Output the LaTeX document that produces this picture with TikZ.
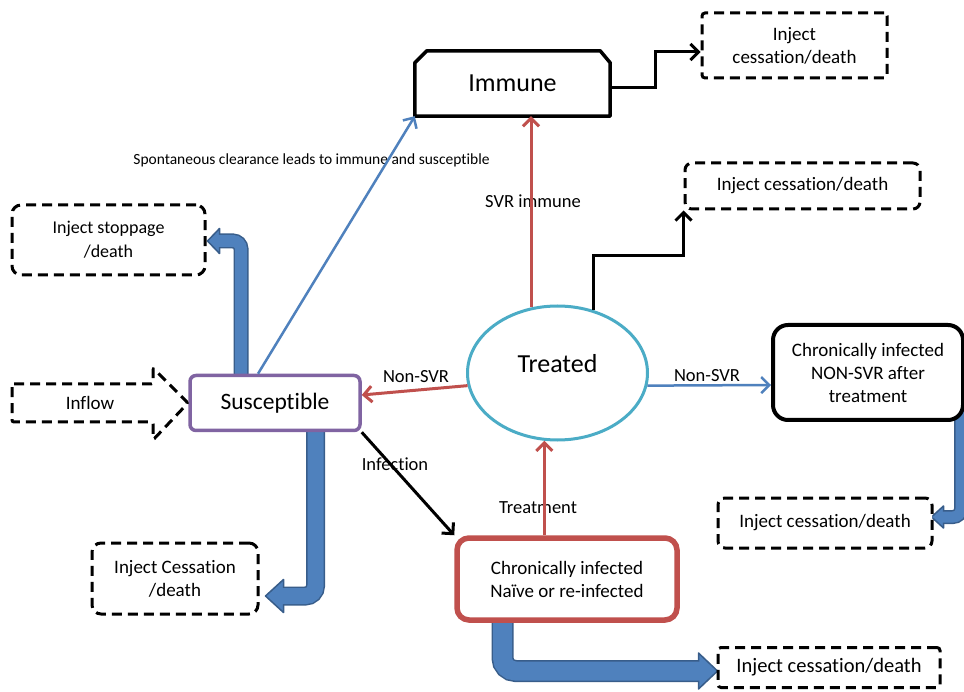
\documentclass[tikz,border=0pt]{standalone}
\usepackage{fontspec}
\setmainfont{Carlito}[Ligatures=NoCommon]
\usetikzlibrary{arrows.meta,shapes.geometric}
\definecolor{cpurple}{HTML}{8064A2}
\definecolor{cred}{HTML}{C0504D}
\definecolor{ccyan}{HTML}{4BACC6}
\definecolor{cblue}{HTML}{4F81BD}
\definecolor{cdark}{HTML}{385D8A}
\newcommand\fsz[2]{\fontsize{#1}{#2}\selectfont}
\pgfdeclarelayer{bg}
\pgfsetlayers{bg,main}
\begin{document}
\begin{tikzpicture}[x=1pt,y=-1pt,
  dbox/.style={draw, line width=3pt, dash pattern=on 10pt off 6pt, rounded corners=7pt, align=center, inner sep=0pt, fill=white, font=\fsz{19}{23}},
  lbl/.style={inner sep=0pt, font=\fsz{18.5}{22}},
  conn/.style={line width=3pt, -{Straight Barb[length=8pt,width=16pt]}},
  fathead/.style={fill=cblue, draw=cdark, line width=1.5pt, line join=round},
]
\begin{pgfonlayer}{bg}
\fill[white] (0,0) rectangle (964,692);
\end{pgfonlayer}
\useasboundingbox (0,0) rectangle (964,692);

% main boxes
\node[draw=cpurple, line width=3.5pt, fill=white, rounded corners=6pt, minimum width=170pt, minimum height=55pt, inner sep=0pt, font=\fsz{23.5}{28}] (sus) at (275,403) {Susceptible};
\node[ellipse, draw=ccyan, line width=3pt, fill=white, minimum width=180pt, minimum height=134pt, inner sep=0pt, font=\fsz{26}{31}] (treated) at (557.5,373) {\raisebox{20pt}{Treated}};
\node[draw=cred, line width=5.5pt, fill=white, rounded corners=12pt, minimum width=220pt, minimum height=82pt, inner sep=0pt, align=center, font=\fsz{19}{23}] (chron) at (567,579) {Chronically infected\\Naïve or re-infected};
\node[draw, line width=4pt, fill=white, rounded corners=15pt, minimum width=190pt, minimum height=95pt, inner sep=0pt, align=center, font=\fsz{19}{23}] (nonsvr) at (868,372.5) {Chronically infected\\NON-SVR after\\treatment};
\node[minimum width=195pt, minimum height=65pt, inner sep=0pt, font=\fsz{26}{31}] (immune) at (512.5,83.5) {Immune};
\draw[line width=3.5pt, line join=round] (immune.south west) -- ([yshift=-12pt]immune.north west) -- ([xshift=12pt]immune.north west) -- ([xshift=-10pt]immune.north east) -- ([yshift=-12pt]immune.north east) -- (immune.south east) -- cycle;

% dashed boxes
\node[dbox, rounded corners=3pt, minimum width=185pt, minimum height=65pt] (injA) at (794.5,45.5) {Inject\\cessation/death};
\node[dbox, minimum width=235pt, minimum height=46pt] (injB) at (802.5,186) {Inject cessation/death};
\node[dbox, rounded corners=9pt, minimum width=193pt, minimum height=70pt, font=\fsz{18}{24}] (injC) at (108.5,240) {Inject stoppage\\/death};
\node[dbox, minimum width=214pt, minimum height=50pt] (injD) at (825,523) {Inject cessation/death};
\node[dbox, rounded corners=9pt, minimum width=166pt, minimum height=71pt] (injE) at (175,578.5) {Inject Cessation\\/death};
\node[dbox, rounded corners=3pt, minimum width=222pt, minimum height=40pt, font=\fsz{20.5}{24}] (injF) at (829,667.5) {Inject cessation/death};

% inflow arrow shape
\node[lbl, font=\fsz{19}{23}] (inflow) at (90,403) {Inflow};
\draw[line width=3pt, dash pattern=on 10pt off 6pt, rounded corners=2pt] (12,384) -- (153,384) -- (153,368) -- (188,403) -- (153,440) -- (153,422) -- (12,422) -- cycle;

% labels
\node[lbl, font=\fsz{15.5}{18}] (spont) at (311.5,160) {Spontaneous clearance leads to immune and susceptible};
\node[lbl] (svr) at (533,201) {SVR immune};
\node[lbl] (ns1) at (416,377) {Non-SVR};
\node[lbl] (ns2) at (707,376) {Non-SVR};
\node[lbl] (inf) at (395,464) {Infection};
\node[lbl] (trt) at (538,508) {Treatment};

% fat arrows (behind boxes)
\coordinate (f1s) at ([shift={(-34pt,-4pt)}]sus.north);
\coordinate (f1t) at ([shift={(1pt,-1pt)}]injC.east);
\coordinate (f2s) at ([shift={(40.5pt,4pt)}]sus.south);
\coordinate (f2t) at ([shift={(6pt,-17.5pt)}]injE.east);
\coordinate (f3s) at ([shift={(-64.5pt,4pt)}]chron.south);
\coordinate (f3t) at ([shift={(1pt,-3.5pt)}]injF.west);
\coordinate (f4s) at ([shift={(93pt,12pt)}]nonsvr.south);
\coordinate (f4t) at ([shift={(-2pt,6pt)}]injD.east);
\begin{pgfonlayer}{bg}
\draw[line width=15pt, draw=cdark, rounded corners=8pt] (f1s) |- ([xshift=10pt]f1t);
\filldraw[fathead] (f1t) -- ++(12,-12.5) -- ++(0,25) -- cycle;
\draw[line width=12pt, draw=cblue, rounded corners=8pt] (f1s) |- ([xshift=10pt]f1t);

\draw[line width=19pt, draw=cdark, rounded corners=10pt] (f2s) |- ([xshift=16pt]f2t);
\filldraw[fathead] (f2t) -- ++(18,-16.5) -- ++(0,33) -- cycle;
\draw[line width=16pt, draw=cblue, rounded corners=10pt] (f2s) |- ([xshift=16pt]f2t);

\draw[line width=22pt, draw=cdark, rounded corners=13pt] (f3s) |- ([xshift=-17pt]f3t);
\filldraw[fathead] (f3t) -- ++(-19,-18) -- ++(0,36) -- cycle;
\draw[line width=19pt, draw=cblue, rounded corners=13pt] (f3s) |- ([xshift=-17pt]f3t);

\draw[line width=14pt, draw=cdark, rounded corners=8pt] (f4s) |- ([xshift=10pt]f4t);
\filldraw[fathead] (f4t) -- ++(12,-11) -- ++(0,22) -- cycle;
\draw[line width=11pt, draw=cblue, rounded corners=8pt] (f4s) |- ([xshift=10pt]f4t);
\end{pgfonlayer}

% connectors
\draw[conn, cblue, line width=2.5pt] ([xshift=-17pt]sus.north) -- (immune.south west);
\draw[conn, cred] (treated.112) -- (immune.south -| treated.112);
\draw[conn] ([yshift=-4.5pt]immune.east) -- ++(45,0) |- ([yshift=-6.5pt]injA.west);
\draw[conn] (treated.60) -- ++(0,-55) -| (injB.south west);
\draw[conn, cred] (treated.188) -- ([yshift=8pt]sus.east);
\draw[conn, cblue, line width=2.5pt] (treated.-8) -- ([yshift=-12.5pt]nonsvr.west);
\draw[conn] (sus.south east) -- (chron.north west);
\draw[conn, cred] (chron.north -| treated.259) -- (treated.259);
\end{tikzpicture}
\end{document}
